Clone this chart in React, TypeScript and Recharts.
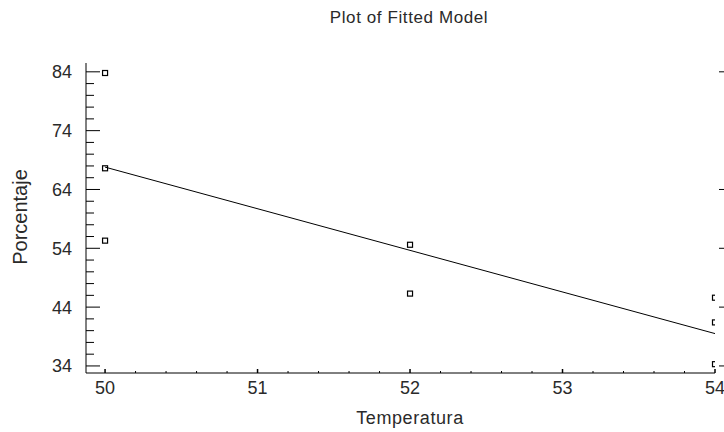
import { ScatterChart, Scatter, XAxis, YAxis } from "recharts";

// observed points (Temperatura, Porcentaje)
const temperatura = [50, 50, 50, 52, 52, 54, 54, 54];
const porcentaje = [83.8, 67.6, 55.3, 54.6, 46.3, 45.6, 41.4, 34.3];

// fitted line end points
const fitTemperatura = [50, 54];
const fitPorcentaje = [67.8, 39.5];

const xTicks = [
  50, 50.2, 50.4, 50.6, 50.8, 51, 51.2, 51.4, 51.6, 51.8, 52, 52.2, 52.4,
  52.6, 52.8, 53, 53.2, 53.4, 53.6, 53.8, 54,
];
const yTicks = [
  34, 36, 38, 40, 42, 44, 46, 48, 50, 52, 54, 56, 58, 60, 62, 64, 66, 68, 70,
  72, 74, 76, 78, 80, 82, 84,
];
const yRightTicks = [34, 44, 54, 64, 84];

const points = temperatura.map((x, i) => ({ x, y: porcentaje[i] }));
const fitLine = fitTemperatura.map((x, i) => ({ x, y: fitPorcentaje[i] }));

const FONT = "'Liberation Sans', Arial, sans-serif";
const TEXT = "#2a2a2a";

const isInt = (v: number) => Math.abs(v - Math.round(v)) < 1e-6;
const isMajorY = (v: number) => isInt((v - 34) / 10);

function LeftTick({ x, y, payload }: any) {
  const major = isMajorY(payload.value);
  return (
    <g>
      <line x1={x} y1={y} x2={x + (major ? 14 : 8)} y2={y} stroke="#000" />
      {major && (
        <text x={x - 14} y={y + 6.5} textAnchor="end" fontSize={18} fill={TEXT} fontFamily={FONT}>
          {payload.value}
        </text>
      )}
    </g>
  );
}

function RightTick({ x, y }: any) {
  return <line x1={x + 4} y1={y} x2={x + 9} y2={y} stroke="#000" />;
}

function BottomTick({ x, y, payload }: any) {
  const major = isInt(payload.value);
  return (
    <g>
      <line x1={x} y1={y} x2={x} y2={y - (major ? 4 : 2)} stroke="#000" strokeWidth={major ? 1.5 : 1} />
      {major && (
        <text x={x} y={y + 21} textAnchor="middle" fontSize={18} fill={TEXT} fontFamily={FONT}>
          {payload.value}
        </text>
      )}
    </g>
  );
}

function TopTick({ x, y, payload }: any) {
  const major = isInt(payload.value);
  return (
    <line x1={x} y1={y} x2={x} y2={y + (major ? 5 : 3)} stroke="#000" strokeWidth={major ? 1.5 : 1} />
  );
}

function SquareMark({ cx, cy }: any) {
  return <rect x={cx - 2.5} y={cy - 2.5} width={5} height={5} fill="none" stroke="#000" strokeWidth={1.2} />;
}

export default function App() {
  return (
    <div style={{ position: "absolute", left: 0, top: 0, width: 724, height: 432, background: "#fff", fontFamily: FONT }}>
      <div style={{ position: "absolute", left: 0, width: 818, top: 8, textAlign: "center", fontSize: 17, letterSpacing: 0.6, color: TEXT }}>
        Plot of Fitted Model
      </div>
      <ScatterChart width={724} height={432} margin={{ top: 63, right: 0, bottom: 0, left: 0 }}>
        <XAxis
          type="number"
          dataKey="x"
          domain={[49.875, 54]}
          allowDataOverflow
          ticks={xTicks}
          interval={0}
          height={59}
          tickSize={0}
          tickMargin={0}
          tick={<BottomTick />}
          axisLine={{ stroke: "#000" }}
        />
        <XAxis
          xAxisId="top"
          orientation="top"
          type="number"
          dataKey="x"
          domain={[49.875, 54]}
          allowDataOverflow
          ticks={xTicks}
          interval={0}
          height={0}
          tickSize={0}
          tickMargin={0}
          tick={<TopTick />}
          axisLine={{ stroke: "#000" }}
        />
        <YAxis
          type="number"
          dataKey="y"
          domain={[32.8, 85.5]}
          allowDataOverflow
          ticks={yTicks}
          interval={0}
          width={86}
          tickSize={0}
          tickMargin={0}
          tick={<LeftTick />}
          axisLine={{ stroke: "#000" }}
        />
        <YAxis
          yAxisId="right"
          orientation="right"
          type="number"
          dataKey="y"
          domain={[32.8, 85.5]}
          allowDataOverflow
          ticks={yRightTicks}
          interval={0}
          width={9}
          tickSize={0}
          tickMargin={0}
          tick={<RightTick />}
          axisLine={false}
        />
        <Scatter
          data={fitLine}
          line={{ stroke: "#000", strokeWidth: 1 }}
          shape={() => <g />}
          isAnimationActive={false}
        />
        <Scatter data={points} shape={<SquareMark />} isAnimationActive={false} />
      </ScatterChart>
      <div style={{ position: "absolute", left: 0, width: 820, top: 408, textAlign: "center", fontSize: 18, letterSpacing: 0.6, color: TEXT }}>
        Temperatura
      </div>
      <div
        style={{
          position: "absolute",
          left: 20,
          top: 217,
          transform: "translate(-50%, -50%) rotate(-90deg)",
          fontSize: 20,
          color: TEXT,
          whiteSpace: "nowrap",
        }}
      >
        Porcentaje
      </div>
    </div>
  );
}
